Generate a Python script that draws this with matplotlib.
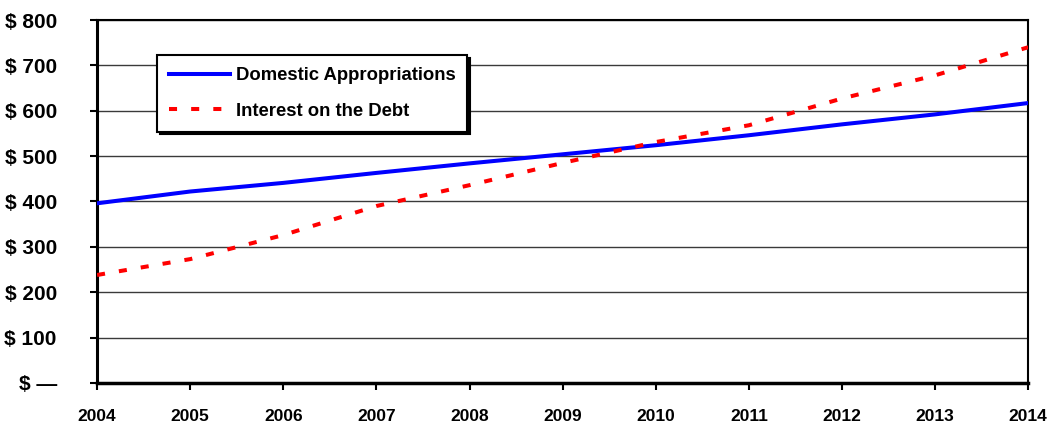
import matplotlib.pyplot as plt
import numpy as np

# data (billions of dollars)
years = [2004, 2005, 2006, 2007, 2008, 2009, 2010, 2011, 2012, 2013, 2014]
domestic = [396, 422, 441, 463, 484, 504, 524, 546, 570, 592, 617]
interest = [238, 273, 326, 390, 436, 485, 531, 568, 627, 678, 740]
yticks = [0, 100, 200, 300, 400, 500, 600, 700, 800]
ylabels = ["$ \u2014", "$ 100", "$ 200", "$ 300", "$ 400", "$ 500", "$ 600", "$ 700", "$ 800"]

plt.rcParams['font.family'] = ['Liberation Sans', 'DejaVu Sans']
plt.rcParams['font.weight'] = 'bold'

fig = plt.figure(figsize=(10.48, 4.23), dpi=100)
ax = fig.add_axes([0.0926, 0.0946, 0.8885, 0.8581])

ax.plot(years, domestic, color='#0000ff', lw=2.9, label='Domestic Appropriations', zorder=3)
ax.plot(years, interest, color='#ff0000', lw=2.9, linestyle=(0, (2, 3.5)),
        label='Interest on the Debt', zorder=3)

ax.set_xlim(2004, 2014)
ax.set_ylim(0, 800)
ax.set_xticks(years)
ax.set_xticklabels([str(y) for y in years], fontsize=12.5, fontweight='bold')
ax.set_yticks(yticks)
ax.set_yticklabels(ylabels, fontsize=15, fontweight='bold')
ax.tick_params(axis='x', direction='out', length=5, width=1.5, pad=14)
ax.tick_params(axis='y', direction='out', length=5, width=1.5, pad=24)

for y in yticks[1:]:
    ax.axhline(y, color='#3a3a3a', lw=1.0, zorder=1)

ax.spines['left'].set_linewidth(2.2)
ax.spines['bottom'].set_linewidth(2.5)
ax.spines['top'].set_linewidth(1.5)
ax.spines['right'].set_linewidth(1.5)

leg = ax.legend(loc='upper left', bbox_to_anchor=(0.0644, 0.903), borderaxespad=0,
                prop={'weight': 'bold', 'size': 13.3},
                handlelength=3.3, handletextpad=0.3, labelspacing=1.0,
                borderpad=0.65, fancybox=False, framealpha=1,
                shadow={'color': 'black', 'alpha': 1})
leg.get_frame().set_edgecolor('black')
leg.get_frame().set_linewidth(1.5)

fig.savefig('out.png', dpi=100)
